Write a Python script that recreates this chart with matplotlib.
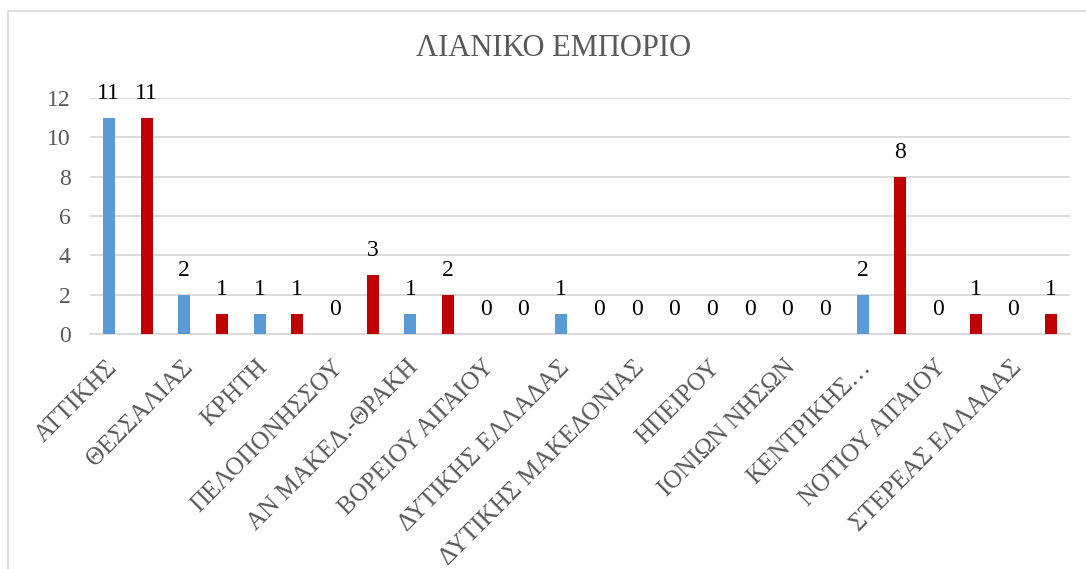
import matplotlib
matplotlib.use("Agg")
import matplotlib.pyplot as plt
import matplotlib.transforms as mtransforms
from matplotlib.patches import Rectangle
import numpy as np

title = "ΛΙΑΝΙΚΟ ΕΜΠΟΡΙΟ"
regions = ["ΑΤΤΙΚΗΣ", "ΘΕΣΣΑΛΙΑΣ", "ΚΡΗΤΗ", "ΠΕΛΟΠΟΝΗΣΣΟΥ", "ΑΝ ΜΑΚΕΔ.-ΘΡΑΚΗ",
           "ΒΟΡΕΙΟΥ ΑΙΓΑΙΟΥ", "ΔΥΤΙΚΗΣ ΕΛΛΑΔΑΣ", "ΔΥΤΙΚΗΣ ΜΑΚΕΔΟΝΙΑΣ", "ΗΠΕΙΡΟΥ",
           "ΙΟΝΙΩΝ ΝΗΣΩΝ", "ΚΕΝΤΡΙΚΗΣ…", "ΝΟΤΙΟΥ ΑΙΓΑΙΟΥ", "ΣΤΕΡΕΑΣ ΕΛΛΑΔΑΣ"]
series_blue = [11, 2, 1, 0, 1, 0, 1, 0, 0, 0, 2, 0, 0]
series_red = [11, 1, 1, 3, 2, 0, 0, 0, 0, 0, 8, 1, 1]
yticks = [0, 2, 4, 6, 8, 10, 12]

BLUE = "#5B9BD5"
RED = "#C00000"
GREY = "#595959"
GRID = "#D9D9D9"
FONT = ["Liberation Serif", "DejaVu Serif"]

plt.rcParams['font.family'] = FONT

fig = plt.figure(figsize=(10.86, 5.69), dpi=100)
fig.patches.append(Rectangle((8/1086, -0.1), 1.2, 1 - 11/569 + 0.1, transform=fig.transFigure,
                             fill=False, edgecolor=GRID, linewidth=1.2, zorder=0))

ax = fig.add_axes([90/1086, 1 - 334/569, (1070 - 90)/1086, (334 - 98)/569])

n = len(regions)
xb = np.arange(n) * 2.0
xr = xb + 1.0
w = 0.32
bb = ax.bar(xb, series_blue, width=w, color=BLUE, zorder=3)
br = ax.bar(xr, series_red, width=w, color=RED, zorder=3)
for bars in (bb, br):
    ax.bar_label(bars, padding=10, fontsize=17, color="black")

ax.set_xlim(-0.5, 2 * n - 0.5)
ax.set_ylim(0, 12)
ax.set_yticks(yticks)
ax.set_yticklabels([str(v) for v in yticks])
ax.yaxis.grid(True, color=GRID, linewidth=1.3, zorder=0)
ax.set_axisbelow(True)
for s in ["top", "right", "left"]:
    ax.spines[s].set_visible(False)
ax.spines["bottom"].set_color(GRID)
ax.spines["bottom"].set_linewidth(1.3)
ax.tick_params(axis="y", length=0, pad=14, labelsize=17, labelcolor=GREY)
ax.tick_params(axis="x", length=0, pad=16, labelsize=18, labelcolor=GREY)

ax.set_xticks(xb)
ax.set_xticklabels(regions, rotation=45, ha="right", va="top", rotation_mode="anchor")
offset = mtransforms.ScaledTranslation(-3/100, 0, fig.dpi_scale_trans)
for lab in ax.get_xticklabels():
    lab.set_transform(lab.get_transform() + offset)

fig.text(554/1086, 1 - 49/569, title, ha="center", va="center", fontsize=22, color=GREY)

fig.savefig("out.png", dpi=100)
